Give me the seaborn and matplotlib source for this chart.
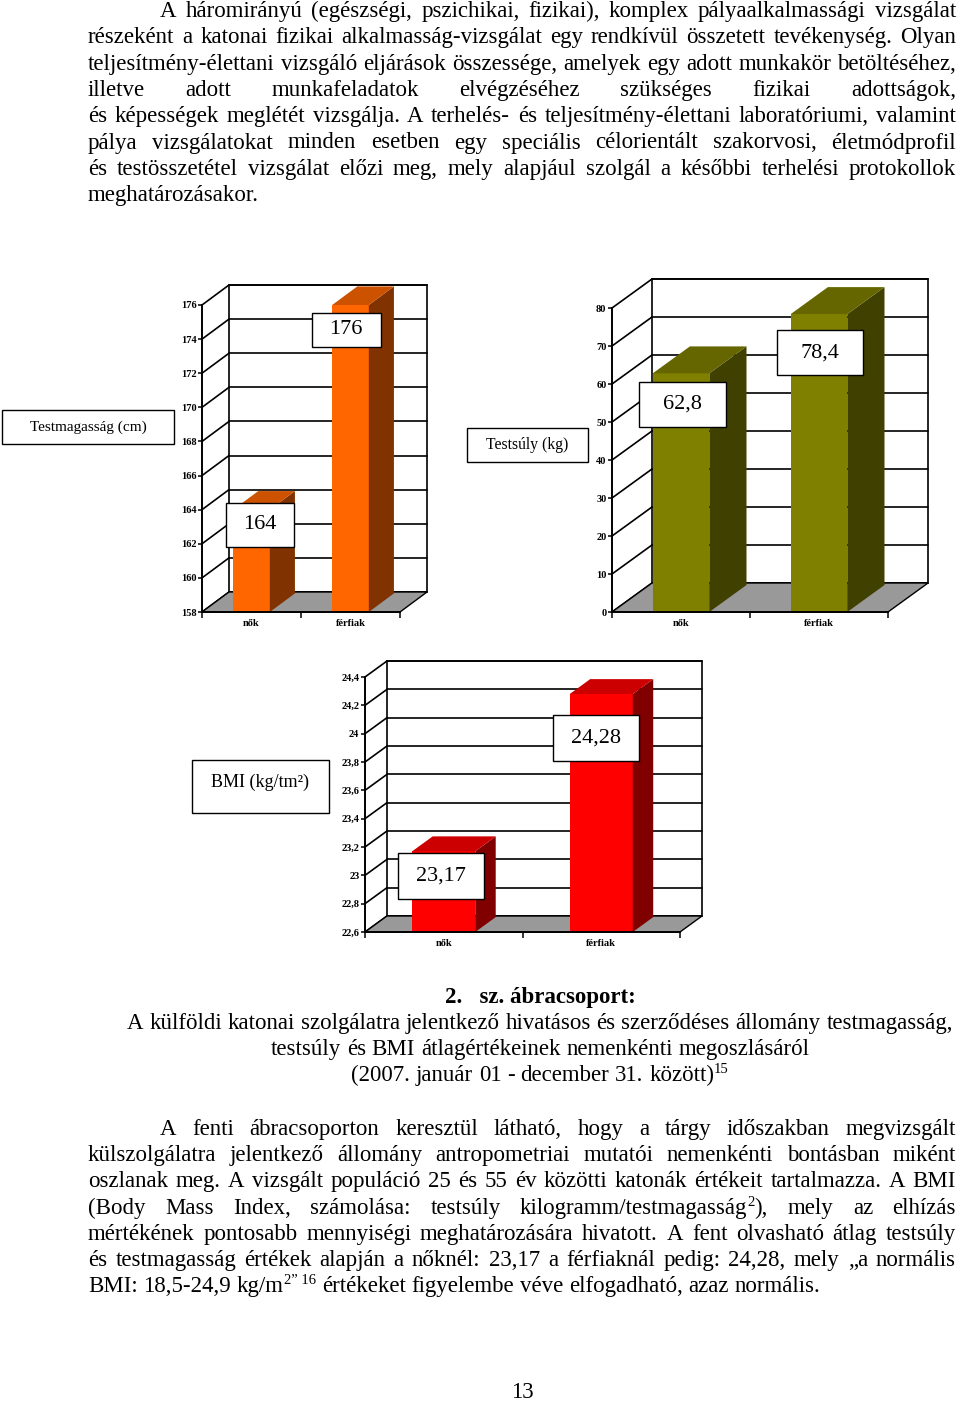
import re
import numpy as np
import pandas as pd
import matplotlib
matplotlib.use('Agg')
import matplotlib.pyplot as plt
import matplotlib.transforms as mtransforms
from matplotlib.patches import Rectangle, Polygon
from matplotlib.font_manager import FontProperties
import seaborn as sns

sns.set_theme(style='white', rc={
    'xtick.bottom': True, 'ytick.left': True,
    'text.color': 'black', 'xtick.color': 'black', 'ytick.color': 'black',
    'axes.edgecolor': 'black'})
plt.rcParams['font.family'] = ['Liberation Serif', 'DejaVu Serif']

# Data
nemek = ['nők', 'férfiak']
testmagassag = [164, 176]
testsuly = [62.8, 78.4]
bmi = [23.17, 24.28]

par1 = [
    "A háromirányú (egészségi, pszichikai, fizikai), komplex pályaalkalmassági vizsgálat",
    "részeként a katonai fizikai alkalmasság-vizsgálat egy rendkívül összetett tevékenység. Olyan",
    "teljesítmény-élettani vizsgáló eljárások összessége, amelyek egy adott munkakör betöltéséhez,",
    "illetve adott munkafeladatok elvégzéséhez szükséges fizikai adottságok,",
    "és képességek meglétét vizsgálja. A terhelés- és teljesítmény-élettani laboratóriumi, valamint",
    "pálya vizsgálatokat minden esetben egy speciális célorientált szakorvosi, életmódprofil",
    "és testösszetétel vizsgálat előzi meg, mely alapjául szolgál a későbbi terhelési protokollok",
    "meghatározásakor.",
]
caption = [
    "A külföldi katonai szolgálatra jelentkező hivatásos és szerződéses állomány testmagasság,",
    "testsúly és BMI átlagértékeinek nemenkénti megoszlásáról",
    "(2007. január 01 - december 31. között)^{15}",
]
par2 = [
    "A fenti ábracsoporton keresztül látható, hogy a tárgy időszakban megvizsgált",
    "külszolgálatra jelentkező állomány antropometriai mutatói nemenkénti bontásban miként",
    "oszlanak meg. A vizsgált populáció 25 és 55 év közötti katonák értékeit tartalmazza. A BMI",
    "(Body Mass Index, számolása: testsúly kilogramm/testmagasság^{2}), mely az elhízás",
    "mértékének pontosabb mennyiségi meghatározására hivatott. A fent olvasható átlag testsúly",
    "és testmagasság értékek alapján a nőknél: 23,17 a férfiaknál pedig: 24,28, mely „a normális",
    "BMI: 18,5-24,9 kg/m^{2”\u00a016} értékeket figyelembe véve elfogadható, azaz normális.",
]


def hu(v):
    return f"{round(v, 2):g}".replace('.', ',')


W, H = 960, 1401
fig = plt.figure(figsize=(W / 100, H / 100), dpi=100)
page = fig.add_axes([0, 0, 1, 1])
page.set_xlim(0, W)
page.set_ylim(H, 0)
page.axis('off')
renderer = fig.canvas.get_renderer()

BODY = 16.5
SUP = 10.5


def seg_w(s, size, weight='normal'):
    fp = FontProperties(family='Liberation Serif', size=size, weight=weight)
    return renderer.get_text_width_height_descent(s, fp, ismath=False)[0]


def parts(word):
    p = re.split(r'\^\{(.*?)\}', word)
    return [(s, i % 2 == 1) for i, s in enumerate(p) if s]


def word_w(word):
    return sum(seg_w(s, SUP if sup else BODY) for s, sup in parts(word))


SPACE = seg_w('a a', BODY) - seg_w('aa', BODY)


def draw_line(line, y, x0=88, x1=956, mode='justify'):
    words = line.split(' ')
    ws = [word_w(w) for w in words]
    if mode == 'justify' and len(words) > 1:
        gap = (x1 - x0 - sum(ws)) / (len(words) - 1)
    else:
        gap = SPACE
    if mode == 'center':
        total = sum(ws) + gap * (len(words) - 1)
        x0 = x1 - total / 2
    x = x0
    for w, ww in zip(words, ws):
        xx = x
        for s, sup in parts(w):
            page.text(xx, y - (8 if sup else 0), s, fontsize=SUP if sup else BODY,
                      ha='left', va='baseline')
            xx += seg_w(s, SUP if sup else BODY)
        x += ww + gap


# Paragraph 1
for i, line in enumerate(par1):
    y = 17 + i * 26.3
    last = i == len(par1) - 1
    draw_line(line, y, x0=160 if i == 0 else 88, mode='left' if last else 'justify')

# Caption
page.text(540, 1003, "2.   sz. ábracsoport:", fontsize=BODY, fontweight='bold',
          ha='center', va='baseline')
for i, line in enumerate(caption):
    draw_line(line, 1029 + i * 26, x1=540, mode='center')

# Paragraph 2
for i, line in enumerate(par2):
    y = 1135 + i * 26.2
    last = i == len(par2) - 1
    draw_line(line, y, x0=160 if i == 0 else 88, mode='left' if last else 'justify')

page.text(522, 1398, "13", fontsize=BODY, ha='center', va='baseline')

# Charts: layout in pixels
charts = [
    dict(values=testmagassag, title="Testmagasság (cm)", ylim=(158, 176), step=2,
         colors=('#FF6600', '#803300', '#CC5200'), rect=(202, 305, 400, 612),
         depth=(27, 20), width=0.37,
         box=(2, 410, 172, 34), title_xy=(88, 427), title_fs=11,
         labels=[((8, -15), (68, 44)), ((-4.5, -25), (69, 34))]),
    dict(values=testsuly, title="Testsúly (kg)", ylim=(0, 80), step=10,
         colors=('#808000', '#404000', '#666600'), rect=(612, 308, 888, 612),
         depth=(40, 29), width=0.41,
         box=(467, 428, 121, 34), title_xy=(527, 445), title_fs=11.3,
         labels=[((1.5, -31), (87, 45)), ((1, -38.5), (86, 45))]),
    dict(values=bmi, title="BMI (kg/tm²)", ylim=(22.6, 24.4), step=0.2,
         colors=('#FF0000', '#800000', '#CC0000'), rect=(365, 677, 680, 932),
         depth=(22, 16), width=0.40,
         box=(192, 760, 137, 53), title_xy=(260, 782), title_fs=13,
         labels=[((-3, -25), (86, 46)), ((-5, -44), (86, 46))]),
]

for c in charts:
    x0, y0, x1, y1 = c['rect']
    ax = fig.add_axes([x0 / W, 1 - y1 / H, (x1 - x0) / W, (y1 - y0) / H])
    ax.set_facecolor('none')
    ymin, ymax = c['ylim']
    front, side, top = c['colors']

    df = pd.DataFrame({'nem': nemek, 'ertek': c['values']})
    sns.barplot(data=df, x='nem', y='ertek', color=front, saturation=1,
                width=c['width'], linewidth=0, ax=ax, zorder=2)
    bars = list(ax.patches)
    ax.set_xlim(-0.5, 1.5)
    ax.set_ylim(ymin, ymax)

    ddx = c['depth'][0] * 2.0 / (x1 - x0)
    ddy = c['depth'][1] * (ymax - ymin) / (y1 - y0)
    yt = np.round(np.arange(ymin, ymax + c['step'] / 2, c['step']), 2)

    # back wall, gridlines, side wall diagonals, floor
    ax.add_patch(Rectangle((-0.5 + ddx, ymin + ddy), 2, ymax - ymin, facecolor='white',
                           edgecolor='black', lw=1.2, zorder=0.5, clip_on=False))
    for t in yt:
        ax.plot([-0.5 + ddx, 1.5 + ddx], [t + ddy, t + ddy], color='black', lw=1.2,
                zorder=0.6, clip_on=False)
        ax.plot([-0.5, -0.5 + ddx], [t, t + ddy], color='black', lw=1.2,
                zorder=0.6, clip_on=False)
    ax.add_patch(Polygon([(-0.5, ymin), (1.5, ymin), (1.5 + ddx, ymin + ddy),
                          (-0.5 + ddx, ymin + ddy)], closed=True, facecolor='#999999',
                         edgecolor='black', lw=1.0, zorder=0.7, clip_on=False))

    # 3d faces of bars
    bd, bdy = ddx * 0.93, ddy * 0.93
    for b in bars:
        bx0 = b.get_x()
        bx1 = bx0 + b.get_width()
        bt = b.get_height()
        ax.add_patch(Polygon([(bx1, ymin), (bx1 + bd, ymin + bdy), (bx1 + bd, bt + bdy),
                              (bx1, bt)], closed=True, facecolor=side, lw=0,
                             zorder=2, clip_on=False))
        ax.add_patch(Polygon([(bx0, bt), (bx1, bt), (bx1 + bd, bt + bdy),
                              (bx0 + bd, bt + bdy)], closed=True, facecolor=top, lw=0,
                             zorder=2, clip_on=False))

    # value labels
    for i, (v, ((ox, oy), (bw, bh))) in enumerate(zip(c['values'], c['labels'])):
        trans = mtransforms.Affine2D() + mtransforms.ScaledTranslation(i, v, ax.transData)
        ax.add_artist(Rectangle((ox - bw / 2, oy - bh / 2), bw, bh, transform=trans,
                                facecolor='white', edgecolor='black', lw=1.0,
                                zorder=6, clip_on=False))
        ax.text(ox, oy, hu(v), transform=trans, ha='center', va='center',
                fontsize=16, zorder=7, clip_on=False)

    # axes
    for s in ('top', 'right'):
        ax.spines[s].set_visible(False)
    for s in ('left', 'bottom'):
        ax.spines[s].set_linewidth(1.4)
        ax.spines[s].set_zorder(3)
    ax.set_yticks(yt)
    ax.set_yticklabels([hu(t) for t in yt], fontsize=7.5, fontweight='bold')
    ax.tick_params(axis='y', direction='out', length=3, width=1.1, pad=1)
    ax.set_xticks([0, 1])
    ax.set_xticklabels(nemek, fontsize=7.5, fontweight='bold')
    ax.set_xticks([-0.5, 0.5, 1.5], minor=True)
    ax.tick_params(axis='x', which='major', length=0, pad=5)
    ax.tick_params(axis='x', which='minor', direction='out', length=4, width=1.1)
    ax.set_xlabel('')
    ax.set_ylabel('')
    ax.set_xlim(-0.5, 1.5)
    ax.set_ylim(ymin, ymax)

    # title box
    bx, by, bw, bh = c['box']
    page.add_patch(Rectangle((bx, by), bw, bh, facecolor='white', edgecolor='black', lw=1.0))
    page.text(c['title_xy'][0], c['title_xy'][1], c['title'], fontsize=c['title_fs'],
              ha='center', va='center')

fig.savefig('out.png', dpi=100)
